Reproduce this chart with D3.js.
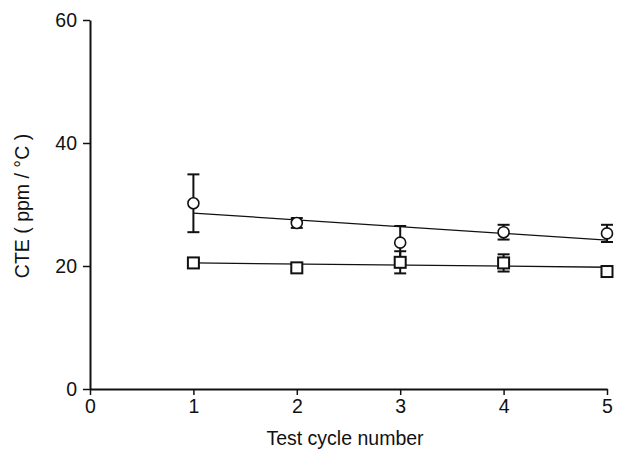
<!DOCTYPE html>
<html><head><meta charset="utf-8">
<script src="https://cdn.jsdelivr.net/npm/d3@7"></script>
<style>body{margin:0;background:#fff}</style>
</head><body><svg id="c" width="626" height="453"></svg>
<script>
const cycles = [1, 2, 3, 4, 5];
const circleMean = [30.2, 27.0, 23.8, 25.5, 25.3];
const circleErr  = [4.7, 0.8, 2.7, 1.2, 1.4];
const squareMean = [20.5, 19.7, 20.6, 20.5, 19.1];
const squareErr  = [0.6, 0.5, 1.8, 1.4, 0.6];
const circleFit = [[1, 28.6], [5, 24.2]];
const squareFit = [[1, 20.5], [5, 19.8]];
const xTicks = [0, 1, 2, 3, 4, 5];
const yTicks = [0, 20, 40, 60];

const FONT = "Liberation Sans, Arial, sans-serif";
const svg = d3.select("#c");
const x = d3.scaleLinear().domain([0, 5]).range([90, 607]);
const y = d3.scaleLinear().domain([0, 60]).range([389, 20]);

const xa = svg.append("g").attr("transform", "translate(0,389)")
  .call(d3.axisBottom(x).tickValues(xTicks).tickFormat(d3.format("d")).tickSize(6).tickPadding(4).tickSizeOuter(0));
const ya = svg.append("g").attr("transform", "translate(90,0)")
  .call(d3.axisLeft(y).tickValues(yTicks).tickFormat(d3.format("d")).tickSize(7).tickPadding(6).tickSizeOuter(0));
[xa, ya].forEach(a => {
  a.attr("font-size", 19.5).attr("font-family", FONT);
  a.select(".domain").attr("stroke", "#111").attr("stroke-width", 2);
  a.selectAll(".tick line").attr("stroke", "#111").attr("stroke-width", 1.5);
  a.selectAll(".tick text").attr("fill", "#111");
});

svg.append("text").attr("x", 345).attr("y", 445).attr("text-anchor", "middle")
  .attr("font-family", FONT).attr("font-size", 19.5).attr("fill", "#111").text("Test cycle number");
svg.append("text").attr("transform", "translate(29,206) rotate(-90)").attr("text-anchor", "middle")
  .attr("font-family", FONT).attr("font-size", 19.5).attr("fill", "#111").text("CTE ( ppm / °C )");

const line = d3.line().x(d => x(d[0])).y(d => y(d[1]));
[circleFit, squareFit].forEach(f => svg.append("path").attr("d", line(f))
  .attr("fill", "none").attr("stroke", "#111").attr("stroke-width", 1.3));

function errBars(mean, err) {
  const g = svg.append("g").attr("stroke", "#111").attr("stroke-width", 2);
  cycles.forEach((c, i) => {
    const cx = x(c), y1 = y(mean[i] + err[i]), y2 = y(mean[i] - err[i]);
    g.append("line").attr("x1", cx).attr("x2", cx).attr("y1", y1).attr("y2", y2);
    g.append("line").attr("x1", cx - 6).attr("x2", cx + 6).attr("y1", y1).attr("y2", y1);
    g.append("line").attr("x1", cx - 6).attr("x2", cx + 6).attr("y1", y2).attr("y2", y2);
  });
}
errBars(circleMean, circleErr);
errBars(squareMean, squareErr);

svg.append("g").selectAll("circle").data(cycles).join("circle")
  .attr("cx", d => x(d)).attr("cy", (d, i) => y(circleMean[i])).attr("r", 5.5)
  .attr("fill", "#fff").attr("stroke", "#111").attr("stroke-width", 1.6);
svg.append("g").selectAll("rect").data(cycles).join("rect")
  .attr("x", d => x(d) - 5.5).attr("y", (d, i) => y(squareMean[i]) - 5.5)
  .attr("width", 11).attr("height", 11)
  .attr("fill", "#fff").attr("stroke", "#111").attr("stroke-width", 2);
</script></body></html>
